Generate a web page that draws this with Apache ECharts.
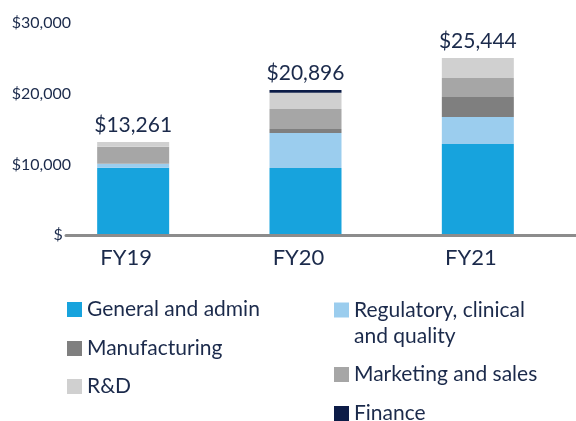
<!DOCTYPE html>
<html>
<head>
<meta charset="utf-8">
<script src="https://cdn.jsdelivr.net/npm/echarts@6/dist/echarts.min.js"></script>
<style>html,body{margin:0;padding:0;background:#fff;}#c{width:576px;height:421px;}</style>
</head>
<body>
<div id="c"></div>
<script>
var categories = ['FY19', 'FY20', 'FY21'];
var generalAdmin = [9560, 9520, 12910];
var regulatory = [570, 4950, 3820];
var manufacturing = [0, 570, 2830];
var marketing = [2400, 2830, 2690];
var rnd = [660, 2310, 2830];
var finance = [0, 380, 0];
var totals = [13261, 20896, 25444];
var yTicks = [0, 10000, 20000, 30000];

var TXT = '#1B2A4B';
var FONT = 'Lato';
var colors = {
  'General and admin': '#17A3DD',
  'Regulatory, clinical and quality': '#9BCDEE',
  'Manufacturing': '#7F7F7F',
  'Marketing and sales': '#A6A6A6',
  'R&D': '#D0D0D0',
  'Finance': '#0C1C47'
};
function fmtMoney(v) {
  if (v === 0) return '$  ';
  return '$' + v.toLocaleString('en-US');
}
function barSeries(name, data) {
  return {
    name: name, type: 'bar', stack: 'all', data: data,
    xAxisIndex: 0, yAxisIndex: 0, barWidth: 72,
    itemStyle: { color: colors[name] }, z: 2
  };
}
var series = [
  barSeries('General and admin', generalAdmin),
  barSeries('Regulatory, clinical and quality', regulatory),
  barSeries('Manufacturing', manufacturing),
  barSeries('Marketing and sales', marketing),
  barSeries('R&D', rnd),
  barSeries('Finance', finance),
  {
    name: 'total', type: 'bar', stack: 'all', xAxisIndex: 0, yAxisIndex: 0, barWidth: 72,
    data: categories.map(function () { return 0; }),
    itemStyle: { color: 'transparent' },
    label: {
      show: true, position: 'top', distance: 6,
      fontFamily: FONT, fontSize: 21, color: TXT,
      formatter: function (p) { return '$' + totals[p.dataIndex].toLocaleString('en-US'); }
    }
  }
];
function leg(name, left, top, extra) {
  var o = {
    data: [name], left: left, top: top, padding: 0, orient: 'vertical',
    icon: 'rect', itemWidth: 15, itemHeight: 15, selectedMode: false,
    textStyle: { fontFamily: FONT, fontSize: 21, color: TXT, lineHeight: 20 }
  };
  if (extra) { for (var k in extra) o[k] = extra[k]; }
  return o;
}
var option = {
  animation: false,
  backgroundColor: '#fff',
  grid: [
    { left: 47, right: 12, top: 23.3, bottom: 185.7 },
    { left: 66, right: 0, top: 23.3, bottom: 185.7 }
  ],
  xAxis: [
    {
      type: 'category', data: categories, gridIndex: 0,
      axisLine: { show: false }, axisTick: { show: false },
      axisLabel: { fontFamily: FONT, fontSize: 22, color: TXT, margin: 12, padding: [0, 14, 0, 0] }
    },
    {
      type: 'category', data: categories, gridIndex: 1, z: 5,
      axisLine: { show: true, lineStyle: { color: '#8C8C8C', width: 3 } },
      axisTick: { show: false }, axisLabel: { show: false }
    }
  ],
  yAxis: [
    { type: 'value', gridIndex: 0, min: 0, max: 30000, interval: 10000, show: false },
    {
      type: 'value', gridIndex: 1, min: 0, max: 30000, interval: 10000,
      axisLine: { show: false }, axisTick: { show: false }, splitLine: { show: false },
      axisLabel: { fontFamily: FONT, fontSize: 16, color: TXT, margin: -5, formatter: fmtMoney }
    }
  ],
  legend: [
    leg('General and admin', 67, 299),
    leg('Manufacturing', 67, 338),
    leg('R&D', 67, 376),
    leg('Regulatory, clinical and quality', 334, 271, {
      formatter: function () { return '\u00a0\nRegulatory, clinical\nand quality'; },
      textStyle: { fontFamily: FONT, fontSize: 21, color: TXT, lineHeight: 26 }
    }),
    leg('Marketing and sales', 334, 364),
    leg('Finance', 334, 403)
  ],
  series: series
};
var chart = echarts.init(document.getElementById('c'), null, { renderer: 'canvas' });
chart.setOption(option);
</script>
</body>
</html>
